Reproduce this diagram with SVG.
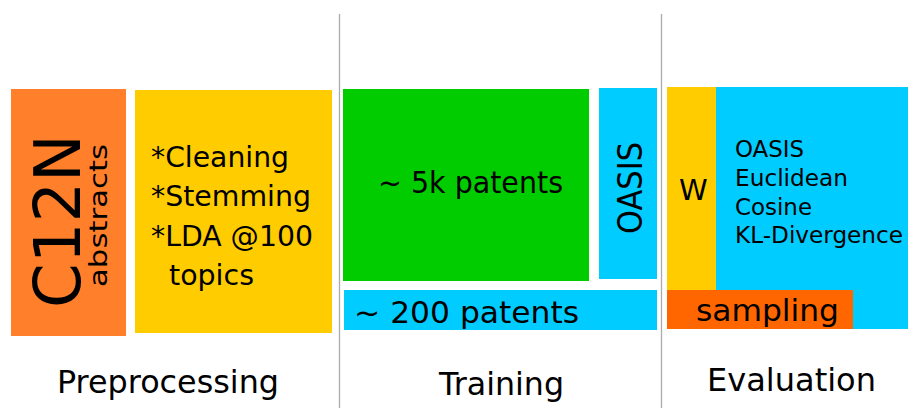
<svg xmlns="http://www.w3.org/2000/svg" width="908" height="408" viewBox="0 0 908 408">
<style>
text{font-family:"DejaVu Sans","Liberation Sans",sans-serif;fill:#000}
.sep{stroke:#ababab;stroke-width:1.3;fill:none}
.orange{fill:#ff7f2a}
.yellow{fill:#ffcc00}
.green{fill:#00cc00}
.blue{fill:#00ccff}
.red{fill:#ff6600}
</style>
<rect width="908" height="408" fill="#fff"/>
<g id="connectors">
<line class="sep" x1="339.5" y1="14" x2="339.5" y2="408"/>
<line class="sep" x1="661.5" y1="14" x2="661.5" y2="408"/>
</g>
<g id="c12n">
<rect class="orange" x="11" y="89" width="115" height="247"/>
<text font-size="64" transform="translate(80,308) rotate(-90)">C12N</text>
<text font-size="25" textLength="143" lengthAdjust="spacingAndGlyphs" transform="translate(107,287) rotate(-90)">abstracts</text>
</g>
<g id="preproc">
<rect class="yellow" x="135" y="90" width="197" height="243"/>
<text font-size="28" x="151" y="167" textLength="138" lengthAdjust="spacingAndGlyphs">*Cleaning</text>
<text font-size="28" x="151" y="206" textLength="160" lengthAdjust="spacingAndGlyphs">*Stemming</text>
<text font-size="28" x="151" y="246" textLength="162" lengthAdjust="spacingAndGlyphs">*LDA @100</text>
<text font-size="28" x="169" y="285" textLength="85" lengthAdjust="spacingAndGlyphs">topics</text>
</g>
<g id="train5k">
<rect class="green" x="343" y="89" width="246" height="192"/>
<text font-size="31" x="378" y="193" textLength="185" lengthAdjust="spacingAndGlyphs">~ 5k patents</text>
</g>
<g id="oasis">
<rect class="blue" x="599" y="88" width="58" height="191"/>
<text font-size="33" textLength="92" lengthAdjust="spacingAndGlyphs" transform="translate(642,234) rotate(-90)">OASIS</text>
</g>
<g id="train200">
<rect class="blue" x="344" y="290" width="313" height="40"/>
<text font-size="30" x="354" y="323" textLength="225" lengthAdjust="spacingAndGlyphs">~ 200 patents</text>
</g>
<g id="eval">
<rect class="blue" x="716" y="87" width="192" height="242"/>
<rect class="yellow" x="667" y="87" width="49" height="203"/>
<text font-size="29" x="679" y="200">W</text>
<text font-size="22.5" x="735" y="157" textLength="69" lengthAdjust="spacingAndGlyphs">OASIS</text>
<text font-size="22.5" x="735" y="186" textLength="113" lengthAdjust="spacingAndGlyphs">Euclidean</text>
<text font-size="22.5" x="735" y="215" textLength="77" lengthAdjust="spacingAndGlyphs">Cosine</text>
<text font-size="22.5" x="735" y="243" textLength="168" lengthAdjust="spacingAndGlyphs">KL-Divergence</text>
</g>
<g id="sampling">
<rect class="red" x="667" y="290" width="186" height="39"/>
<text font-size="30" x="696" y="321" textLength="143" lengthAdjust="spacingAndGlyphs">sampling</text>
</g>
<g id="labels">
<text font-size="31.5" x="57" y="393" textLength="222" lengthAdjust="spacingAndGlyphs">Preprocessing</text>
<text font-size="31.5" x="439" y="395" textLength="125" lengthAdjust="spacingAndGlyphs">Training</text>
<text font-size="31.5" x="707" y="391" textLength="169" lengthAdjust="spacingAndGlyphs">Evaluation</text>
</g>
</svg>
